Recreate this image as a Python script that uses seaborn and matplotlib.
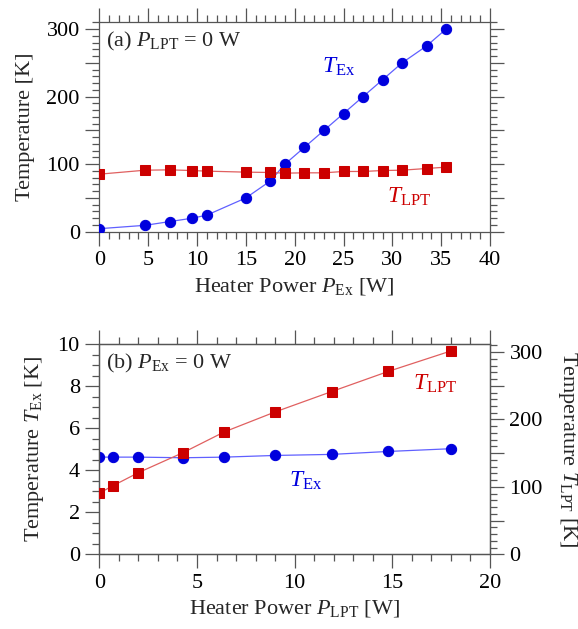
import numpy as np
import pandas as pd
import matplotlib
matplotlib.use("Agg")
import matplotlib.pyplot as plt
from matplotlib.ticker import MultipleLocator, FixedLocator, FixedFormatter
import seaborn as sns

# ---------------- data ----------------
# (a) P_LPT = 0 W, varying P_Ex
p_ex = [0, 4.7, 7.2, 9.5, 11, 15, 17.5, 19, 21, 23, 25, 27, 29, 31, 33.5, 35.5]
t_ex_a = [4.5, 9.5, 15, 20, 24.5, 50, 75, 100, 125, 150, 175, 200, 225, 250, 275, 300]
t_lpt_a = [85.2, 91.1, 91.6, 90.6, 89.7, 88.2, 87.7, 86.7, 87.2, 87.2, 89.2, 89.2, 90.6, 91.1, 93.6, 95.6]

# (b) P_Ex = 0 W, varying P_LPT
p_lpt = [0, 0.7, 2.0, 4.3, 6.4, 9.0, 11.9, 14.8, 18.0]
t_ex_b = [4.62, 4.62, 4.62, 4.59, 4.62, 4.70, 4.75, 4.89, 5.02]
t_lpt_b = [90.8, 101.7, 121.1, 151.0, 181.6, 211.2, 241.5, 271.4, 301.7]

df_a = pd.DataFrame({"P": p_ex, "TEx": t_ex_a, "TLPT": t_lpt_a})
df_b = pd.DataFrame({"P": p_lpt, "TEx": t_ex_b, "TLPT": t_lpt_b})

# ---------------- style ----------------
sns.set_theme(style="white")
plt.rcParams["font.family"] = ["Liberation Serif", "DejaVu Serif"]
plt.rcParams["mathtext.fontset"] = "custom"
plt.rcParams["mathtext.rm"] = "Liberation Serif"
plt.rcParams["mathtext.it"] = "Liberation Serif:italic"
plt.rcParams["mathtext.bf"] = "Liberation Serif:bold"

FS = 16
BLUE = "#0000dd"
BLUE_L = "#6060ff"
RED = "#cc0000"
RED_L = "#e06060"
TICKC = "#555555"

fig = plt.figure(figsize=(5.78, 6.29), dpi=100)
ax1 = fig.add_axes([0.1718, 0.6316, 0.6760, 0.3329])
ax3 = fig.add_axes([0.1718, 0.1188, 0.6760, 0.3343])


def series(ax, df, y, marker, mc, lc, ms):
    sns.lineplot(data=df, x="P", y=y, ax=ax, color=lc, linewidth=0.9,
                 sort=False, legend=False, zorder=2)
    sns.lineplot(data=df, x="P", y=y, ax=ax, color=lc, linewidth=0,
                 marker=marker, markersize=ms, markerfacecolor=mc,
                 markeredgecolor=mc, sort=False, legend=False, zorder=3)


def style_spines(ax):
    for s in ax.spines.values():
        s.set_color(TICKC)
        s.set_linewidth(0.9)


def ticks(ax, left, right, top=True, bottom=True):
    ax.tick_params(which="both", direction="out", top=top, bottom=bottom,
                   left=left, right=right, color=TICKC, width=0.9,
                   labelsize=FS, labelcolor="black")
    ax.tick_params(which="major", length=10, pad=4)
    ax.tick_params(which="minor", length=5)


yt = [0, 50, 100, 150, 200, 250, 300]
ylabels = [str(v) if v % 100 == 0 else "" for v in yt]

# ---------------- panel (a) ----------------
series(ax1, df_a, "TEx", "o", BLUE, BLUE_L, 7.4)
series(ax1, df_a, "TLPT", "s", RED, RED_L, 7.8)
ax1.set_xlim(0, 40)
ax1.set_ylim(0, 310)
ax1.xaxis.set_major_locator(MultipleLocator(5))
ax1.xaxis.set_minor_locator(MultipleLocator(1))
ax1.yaxis.set_major_locator(FixedLocator(yt))
ax1.yaxis.set_major_formatter(FixedFormatter(ylabels))
ax1.yaxis.set_minor_locator(MultipleLocator(10))
ticks(ax1, left=True, right=True)
ax1.set_xlabel(r"Heater Power $P_{\rm Ex}$ [W]", fontsize=FS, labelpad=4)
ax1.set_ylabel("Temperature [K]", fontsize=FS, labelpad=8)
style_spines(ax1)
ax1.text(0.7, 274, r"(a) $P_{\rm LPT}$ = 0 W", fontsize=FS, ha="left", va="baseline")
ax1.text(22.8, 235, r"$T_{\rm Ex}$", fontsize=FS + 1, color=BLUE, ha="left", va="baseline")
ax1.text(29.5, 43.6, r"$T_{\rm LPT}$", fontsize=FS + 1, color=RED, ha="left", va="baseline")

# ---------------- panel (b) ----------------
ax4 = ax3.twinx()
series(ax3, df_b, "TEx", "o", BLUE, BLUE_L, 7.4)
series(ax4, df_b, "TLPT", "s", RED, RED_L, 7.8)
ax3.set_xlim(0, 20)
ax3.set_ylim(0, 10)
ax4.set_ylim(0, 312)
ax3.xaxis.set_major_locator(MultipleLocator(5))
ax3.xaxis.set_minor_locator(MultipleLocator(1))
ax3.yaxis.set_major_locator(MultipleLocator(2))
ax3.yaxis.set_minor_locator(MultipleLocator(0.5))
ax4.yaxis.set_major_locator(FixedLocator(yt))
ax4.yaxis.set_major_formatter(FixedFormatter(ylabels))
ax4.yaxis.set_minor_locator(MultipleLocator(10))
ticks(ax3, left=True, right=False)
ticks(ax4, left=False, right=True, top=False, bottom=False)
ax3.set_xlabel(r"Heater Power $P_{\rm LPT}$ [W]", fontsize=FS, labelpad=4)
ax3.set_ylabel(r"Temperature $T_{\rm Ex}$ [K]", fontsize=FS, labelpad=8)
ax4.set_ylabel(r"Temperature $T_{\rm LPT}$ [K]", fontsize=FS, rotation=270, labelpad=26)
style_spines(ax3)
style_spines(ax4)
ax3.text(0.34, 8.84, r"(b) $P_{\rm Ex}$ = 0 W", fontsize=FS, ha="left", va="baseline")
ax3.text(16.07, 7.81, r"$T_{\rm LPT}$", fontsize=FS + 1, color=RED, ha="left", va="baseline")
ax3.text(9.73, 3.21, r"$T_{\rm Ex}$", fontsize=FS + 1, color=BLUE, ha="left", va="baseline")

fig.savefig("out.png", dpi=100)
